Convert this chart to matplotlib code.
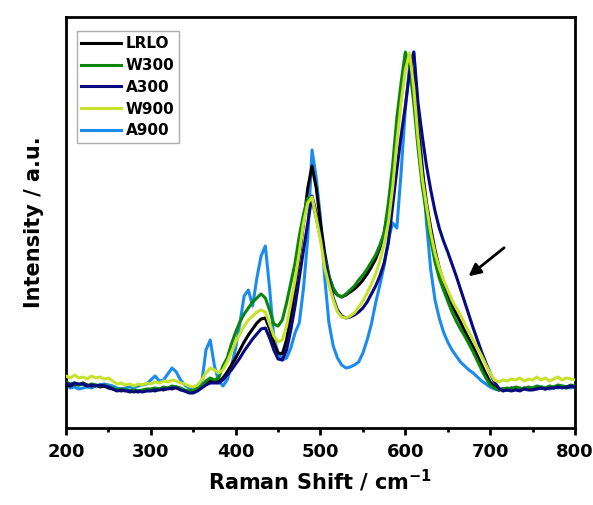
import matplotlib
matplotlib.use("Agg")
import matplotlib.pyplot as plt
import numpy as np

# Raman shift grid (cm-1), 5 cm-1 step
shift = np.arange(200, 805, 5)

lrlo = [44, 42, 44, 43, 45, 43, 42, 43, 41, 42,
        40, 39, 38, 37, 38, 36, 37, 36, 37, 38,
        38, 37, 39, 38, 40, 39, 41, 39, 37, 36,
        36, 38, 41, 44, 47, 47, 46, 50, 56, 63,
        70, 78, 86, 93, 99, 105, 109, 110, 99, 85,
        75, 74, 88, 112, 140, 170, 205, 240, 262, 240,
        205, 175, 152, 138, 133, 131, 133, 136, 139, 143,
        148, 154, 161, 169, 180, 195, 218, 255, 298, 335,
        365, 373, 348, 300, 258, 225, 200, 178, 160, 146,
        134, 123, 114, 106, 97, 89, 81, 72, 63, 54,
        46, 41, 38, 39, 38, 40, 39, 38, 40, 39,
        39, 41, 40, 39, 41, 40, 42, 41, 40, 42,
        41]

w300 = [46, 44, 45, 43, 44, 42, 44, 43, 42, 43,
        41, 40, 38, 39, 38, 37, 38, 37, 38, 39,
        39, 40, 39, 41, 40, 42, 41, 40, 38, 37,
        38, 40, 42, 47, 50, 48, 50, 62, 70, 84,
        96, 106, 114, 120, 126, 130, 134, 130, 118, 104,
        102, 108, 125, 145, 165, 192, 214, 230, 228, 210,
        190, 170, 152, 140, 133, 131, 134, 138, 142, 148,
        153, 159, 166, 173, 183, 195, 225, 262, 310, 345,
        376, 362, 325, 280, 242, 214, 188, 166, 150, 138,
        127, 116, 107, 99, 92, 84, 76, 67, 58, 50,
        43, 40, 38, 39, 40, 39, 41, 40, 39, 41,
        40, 42, 41, 40, 42, 41, 43, 42, 41, 43,
        42]

a300 = [45, 43, 45, 44, 44, 42, 43, 42, 43, 42,
        41, 39, 37, 38, 37, 37, 36, 37, 36, 37,
        37, 38, 38, 39, 39, 40, 40, 38, 37, 35,
        35, 37, 40, 43, 45, 45, 45, 48, 53, 58,
        64, 70, 77, 83, 89, 94, 99, 100, 90, 78,
        69, 68, 78, 98, 122, 150, 178, 205, 232, 215,
        192, 168, 148, 130, 118, 112, 110, 111, 113, 116,
        120, 126, 134, 142, 152, 165, 185, 222, 258, 292,
        322, 356, 376, 325, 292, 262, 238, 217, 200, 187,
        176, 164, 152, 139, 126, 113, 100, 88, 76, 65,
        55, 46, 40, 37, 38, 37, 38, 37, 39, 38,
        38, 39, 40, 39, 40, 40, 41, 40, 41, 42,
        41]

w900 = [52, 50, 53, 50, 51, 49, 52, 50, 51, 49,
        50, 47, 44, 45, 43, 44, 42, 44, 43, 45,
        44, 46, 45, 47, 46, 48, 47, 45, 44, 42,
        41, 43, 48, 55, 60, 58, 55, 58, 66, 76,
        86, 94, 102, 108, 112, 116, 118, 116, 104, 92,
        86, 88, 102, 125, 148, 175, 205, 225, 231, 210,
        188, 160, 143, 128, 116, 111, 110, 112, 115, 121,
        127, 135, 144, 154, 167, 184, 205, 240, 285, 325,
        358, 375, 340, 290, 250, 222, 195, 175, 160, 148,
        138, 128, 120, 113, 104, 96, 88, 80, 72, 63,
        55, 48, 46, 48, 47, 49, 48, 50, 47, 49,
        48, 51, 48, 50, 47, 49, 51, 48, 50, 49,
        48]

a900 = [43, 40, 41, 39, 40, 41, 40, 42, 43, 44,
        43, 42, 40, 39, 40, 41, 40, 42, 43, 44,
        48, 52, 47, 48, 54, 60, 56, 48, 43, 40,
        38, 39, 45, 78, 88, 62, 47, 42, 48, 62,
        80, 105, 132, 138, 122, 150, 172, 182, 140, 90,
        75, 68, 70, 80, 95, 105, 140, 190, 278, 250,
        210, 150, 105, 82, 70, 63, 60, 61, 63, 66,
        75, 88, 104, 125, 143, 162, 188, 205, 200, 255,
        318, 362, 376, 315, 262, 205, 158, 128, 110, 96,
        86, 78, 72, 66, 62, 58, 55, 51, 47, 44,
        41, 39, 38, 39, 38, 40, 39, 38, 40, 39,
        40, 39, 41, 40, 39, 41, 40, 42, 41, 40,
        41]

names = ["LRLO", "W300", "A300", "W900", "A900"]
colors = ["#000000", "#0a860a", "#0a0a80", "#c6e22a", "#1a8cf0"]
series = [lrlo, w300, a300, w900, a900]

fig = plt.figure(figsize=(5.93, 5.05), dpi=100)
ax = fig.add_axes([0.1113, 0.1525, 0.8583, 0.8138])

zo = {"A900": 2, "LRLO": 3, "W300": 4, "A300": 5, "W900": 6}
handles = []
for nm, c, y in zip(names, colors, series):
    h, = ax.plot(shift, y, color=c, lw=2.2, label=nm, zorder=zo[nm])
    handles.append(h)

ax.annotate("", xy=(672, 150), xytext=(719, 182),
            arrowprops=dict(arrowstyle="-|>", color="k", lw=2, mutation_scale=18))

ax.set_xlim(200, 800)
ax.set_ylim(0, 411)
ax.set_xticks(np.arange(200, 801, 100))
ax.set_xticks(np.arange(250, 800, 100), minor=True)
ax.set_yticks([])
ax.tick_params(axis="x", which="major", direction="out", length=5, width=2, pad=6,
               labelsize=13)
ax.tick_params(axis="x", which="minor", direction="out", length=3, width=2)
for lab in ax.get_xticklabels():
    lab.set_fontweight("bold")
for s in ax.spines.values():
    s.set_linewidth(2)

ax.set_xlabel("Raman Shift / cm$^{\\mathbf{-1}}$", fontsize=15, fontweight="bold", labelpad=5)
ax.set_ylabel("Intensity / a.u.", fontsize=15, fontweight="bold", labelpad=16)

leg = ax.legend(handles=handles, loc="upper left", bbox_to_anchor=(0.021, 0.965),
                borderaxespad=0, fancybox=False, edgecolor="#999999",
                prop={"weight": "bold", "size": 11}, handlelength=2.6,
                handletextpad=0.3, labelspacing=0.45, borderpad=0.3)
leg.get_frame().set_linewidth(1)

fig.savefig("out.png", dpi=100)
